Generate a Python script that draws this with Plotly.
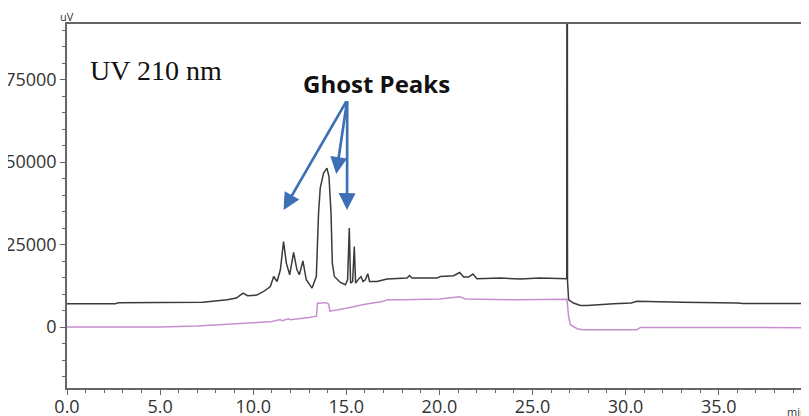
import plotly.graph_objects as go

# ---- data ----
black_t = [0, 2.6, 2.75, 7.3, 8.6, 9.1, 9.45, 9.7, 10.2, 10.56, 10.92, 11.1, 11.28, 11.46, 11.63,
           11.78, 11.96, 12.17, 12.35, 12.48, 12.67, 12.85, 13.16, 13.39, 13.51, 13.6, 13.78,
           13.96, 14.07, 14.18, 14.25, 14.36, 14.68, 14.95, 15.07, 15.16, 15.23, 15.34, 15.43,
           15.5, 15.66, 15.79, 15.9, 16.02, 16.15, 16.25, 16.65, 17.19, 18.26, 18.4, 18.53,
           19.87, 20.05, 20.76, 21.09, 21.3, 21.57, 21.8, 22.02, 23.27, 24.34, 25.4, 26.84,
           26.86, 26.88, 26.94, 27.2, 27.57, 27.93, 29.36, 30.3, 30.6, 31.2, 33.0, 36.0, 36.3, 39.9]
black_v = [7060, 7060, 7350, 7500, 8270, 8790, 10300, 9500, 9700, 10790, 12300, 15330, 13820, 17360, 25940,
           19390, 15850, 22610, 17360, 15850, 20090, 14330, 11820, 15330, 34550, 42120, 46670,
           48180, 45640, 34550, 19390, 15330, 13520, 12820, 14330, 30000, 13330, 13820, 24420,
           13330, 14540, 15330, 13820, 14330, 16150, 13820, 13820, 14540, 14850, 15640, 14850,
           14850, 15330, 15550, 16550, 15150, 15150, 16060, 14640, 14850, 14540, 14850, 14640,
           250000, 14000, 8270, 7270, 6550, 6550, 7060, 7300, 7800, 7700, 7500, 7300, 7150, 7100]

pink_t = [0, 5, 7, 8.5, 10, 11, 11.45, 11.55, 11.9, 12.0, 12.1, 13.0, 13.4, 13.45, 13.9, 14.05,
          14.12, 15, 16, 17, 17.2, 18, 20, 21.1, 21.4, 24, 26.85, 26.94, 27.03, 27.4, 27.7,
          30.6, 30.8, 35, 39.9]
pink_v = [0, 0, 300, 700, 1300, 1700, 2300, 1900, 2500, 2200, 2300, 2900, 3300, 7200, 7400, 7000,
          4800, 5700, 6900, 7800, 8300, 8300, 8500, 9200, 8500, 8300, 8400, 3200, 700, -500, -800,
          -800, -100, -100, -200]

x_tickvals = [0, 5, 10, 15, 20, 25, 30, 35]
x_ticktext = ["0.0", "5.0", "10.0", "15.0", "20.0", "25.0", "30.0", "35.0"]
y_tickvals = [0, 25000, 50000, 75000]
y_ticktext = ["0", "25000", "50000", "75000"]

# arrows: tips and common tail (data coordinates)
arrow_tips_x = [11.63, 14.46, 15.04]
arrow_tips_y = [35500, 46400, 35500]
arrow_tail = (15.05, 68900)

AXC = "#666666"
PW, PH = 742, 364  # plot area size in px

fig = go.Figure()
fig.add_trace(go.Scatter(x=pink_t, y=pink_v, mode="lines",
                         line=dict(color="#c88fd0", width=1.5), hoverinfo="skip"))
fig.add_trace(go.Scatter(x=black_t, y=black_v, mode="lines",
                         line=dict(color="#3a3a3a", width=1.5), hoverinfo="skip"))

ann = []
ann.append(dict(text="UV 210 nm", xref="paper", yref="paper", x=(88 - 67) / PW, y=1 - (70 - 24) / PH,
                xanchor="left", yanchor="middle", showarrow=False,
                font=dict(family="Liberation Serif", size=28, color="#111111")))
ann.append(dict(text="<b>Ghost Peaks</b>", xref="paper", yref="paper", x=(376 - 67) / PW,
                y=1 - (83 - 24) / PH, xanchor="center", yanchor="middle", showarrow=False,
                font=dict(family="Open Sans", size=24, color="#111111")))
for tx, ty in zip(arrow_tips_x, arrow_tips_y):
    ann.append(dict(text="", x=tx, y=ty, xref="x", yref="y", ax=arrow_tail[0], ay=arrow_tail[1],
                    axref="x", ayref="y", showarrow=True, arrowhead=2, arrowsize=1.25,
                    arrowwidth=2.7, arrowcolor="#3e70b5", standoff=0, startstandoff=0))
ann.append(dict(text="uV", xref="paper", yref="paper", x=0, y=1 + (24 - 16.5) / PH,
                xanchor="center", yanchor="middle", showarrow=False,
                font=dict(family="Open Sans", size=11, color="#333333")))
ann.append(dict(text="min", xref="paper", yref="paper", x=1, y=-(411 - 388) / PH,
                xanchor="right", yanchor="middle", showarrow=False,
                font=dict(family="Open Sans", size=11, color="#333333")))

# the page body has an 8px margin, so the figure is placed at (8, 8)
fig.update_layout(
    width=801, height=408,
    margin=dict(l=59, r=0, t=16, b=28, autoexpand=False),
    paper_bgcolor="white", plot_bgcolor="white",
    showlegend=False,
    annotations=ann,
    font=dict(family="Open Sans", size=18, color="#333333"),
)
fig.update_xaxes(range=[0, 39.85], showgrid=False, zeroline=False,
                 showline=True, linecolor=AXC, linewidth=1.5, mirror=True,
                 ticks="outside", ticklen=5, tickwidth=1.2, tickcolor=AXC,
                 tickvals=x_tickvals, ticktext=x_ticktext, ticklabelstandoff=-3,
                 minor=dict(dtick=1, ticks="outside", ticklen=3, tickcolor=AXC, tickwidth=1, showgrid=False))
fig.update_yaxes(range=[-18480, 91900], showgrid=False, zeroline=False,
                 showline=True, linecolor=AXC, linewidth=1.5,
                 ticks="outside", ticklen=5, tickwidth=1.2, tickcolor=AXC,
                 tickvals=y_tickvals, ticktext=y_ticktext,
                 minor=dict(dtick=5000, tick0=0, ticks="outside", ticklen=3, tickcolor=AXC, tickwidth=1, showgrid=False))

fig.write_html("out.html")
